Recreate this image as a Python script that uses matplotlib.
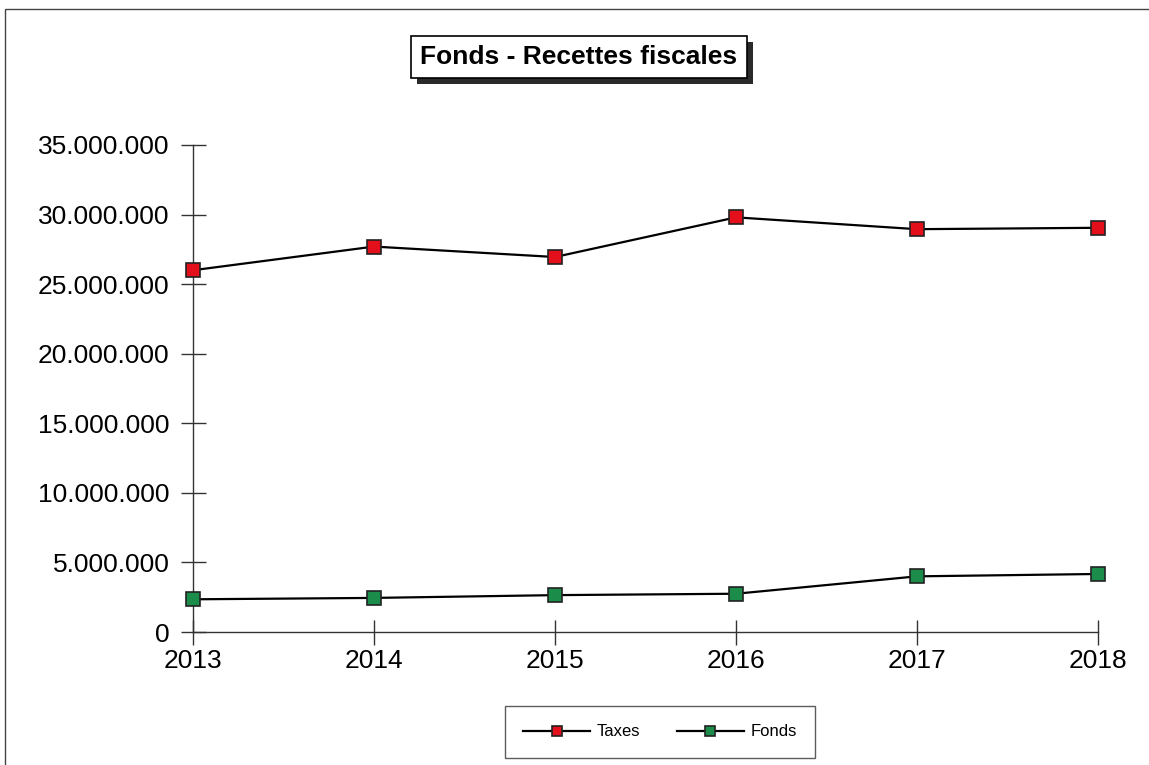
import matplotlib
matplotlib.use('Agg')
import numpy as np
from matplotlib import pyplot as plt
from matplotlib.patches import Rectangle
from matplotlib.ticker import FuncFormatter, MultipleLocator

years = [2013, 2014, 2015, 2016, 2017, 2018]
taxes = [26000000, 27700000, 26950000, 29800000, 28950000, 29050000]
fonds = [2350000, 2450000, 2650000, 2750000, 4000000, 4170000]

plt.rcParams['font.family'] = ['Liberation Sans', 'DejaVu Sans']

fig = plt.figure(figsize=(11.49, 7.65), dpi=100)
ax = fig.add_axes([193/1149, 1-632/765, (1098-193)/1149, (632-145)/765])

for vals, col, lab in [(taxes, '#e3101c', 'Taxes'), (fonds, '#1b8c4a', 'Fonds')]:
    ax.plot(years, vals, color='black', lw=1.6, marker='s', markersize=10,
            markerfacecolor=col, markeredgecolor='#222222', markeredgewidth=1.2,
            label=lab, zorder=3, clip_on=False)

ax.set_xlim(2013, 2018)
ax.set_ylim(0, 35000000)
ax.yaxis.set_major_locator(MultipleLocator(5000000))
ax.yaxis.set_major_formatter(FuncFormatter(lambda v, p: f"{int(v):,}".replace(",", ".")))
ax.set_xticks(years)
ax.tick_params(axis='both', direction='inout', length=18, width=1, labelsize=19, color='#333333')
ax.tick_params(axis='x', pad=3)
ax.tick_params(axis='y', pad=8)
for s in ['top', 'right']:
    ax.spines[s].set_visible(False)
for s in ['left', 'bottom']:
    ax.spines[s].set_color('#333333')
    ax.spines[s].set_linewidth(1)
ax.set_facecolor('none')

# title box with shadow
title = fig.text(579/1149, 1-57/765, 'Fonds - Recettes fiscales', fontsize=19, fontweight='bold',
                 ha='center', va='center', color='black', zorder=5,
                 bbox=dict(boxstyle='square,pad=0.35', facecolor='white', edgecolor='black', lw=1.2))
fig.canvas.draw()
bb = title.get_bbox_patch().get_window_extent().transformed(fig.transFigure.inverted())
fig.patches.append(Rectangle((bb.x0 + 6/1149, bb.y0 - 6/765), bb.width, bb.height,
                             transform=fig.transFigure, facecolor='#2a2a2a', edgecolor='none', zorder=1))

leg = fig.legend(loc='center', bbox_to_anchor=(660/1149, 1-732/765), ncol=2, fontsize=12,
                 frameon=True, fancybox=False, edgecolor='#333333', handlelength=4,
                 handletextpad=0.4, columnspacing=2.2, borderpad=1.1, markerscale=0.7)
leg.get_frame().set_linewidth(1)

fig.patches.append(Rectangle((5/1149, -0.01), 1.1, 1-9/765 + 0.01, transform=fig.transFigure,
                             fill=False, edgecolor='#444444', lw=1))

fig.savefig('out.png', dpi=100, facecolor='white')
